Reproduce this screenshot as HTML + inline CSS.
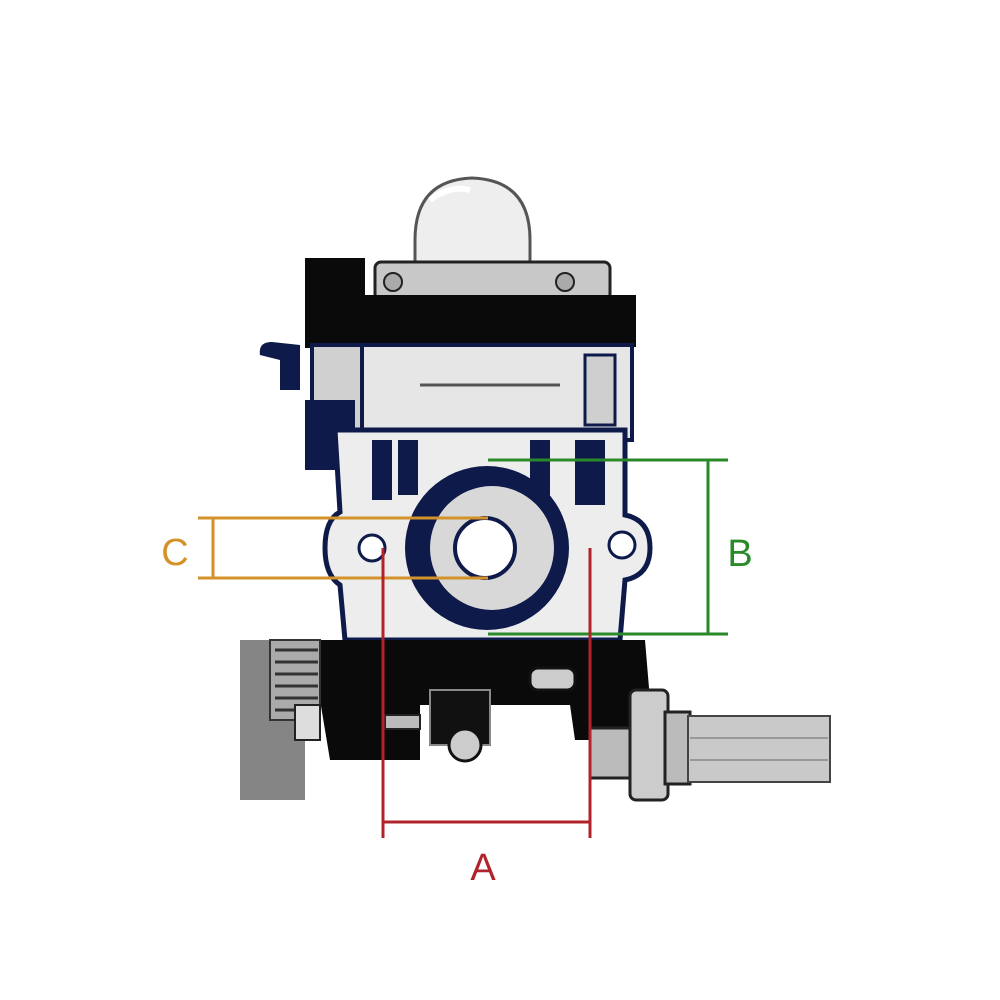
<!DOCTYPE html>
<html><head><meta charset="utf-8"><style>
html,body{margin:0;padding:0;background:#fff;}
svg{display:block;}
text{font-family:"Liberation Sans",sans-serif;}
</style></head><body>
<svg width="1000" height="1000" viewBox="0 0 1000 1000" xmlns="http://www.w3.org/2000/svg">
<rect width="1000" height="1000" fill="#fff"/>
<!-- primer bulb -->
<path d="M415,268 L415,240 Q415,180 472,178 Q530,180 530,240 L530,268 Z" fill="#eeeeee" stroke="#555" stroke-width="3"/>
<path d="M430,200 Q450,185 470,190" stroke="#fff" stroke-width="6" fill="none"/>
<!-- bulb base plate -->
<rect x="375" y="262" width="235" height="38" rx="6" fill="#c8c8c8" stroke="#222" stroke-width="3"/>
<circle cx="393" cy="282" r="9" fill="#aaa" stroke="#222" stroke-width="2"/>
<circle cx="565" cy="282" r="9" fill="#aaa" stroke="#222" stroke-width="2"/>
<!-- black top body -->
<rect x="308" y="295" width="328" height="52" fill="#0a0a0a"/>
<rect x="305" y="258" width="60" height="90" fill="#0a0a0a"/>
<!-- choke lever -->
<path d="M260,355 Q258,342 272,342 L300,345 L300,390 L280,390 L280,360 Z" fill="#0d1a4a"/>
<!-- body middle -->
<rect x="312" y="345" width="320" height="95" fill="#e6e6e6" stroke="#0d1a4a" stroke-width="4"/>
<rect x="312" y="345" width="50" height="95" fill="#d0d0d0" stroke="#0d1a4a" stroke-width="4"/>
<rect x="305" y="400" width="50" height="70" fill="#0d1a4a"/>
<line x1="420" y1="385" x2="560" y2="385" stroke="#555" stroke-width="3"/>
<rect x="585" y="355" width="30" height="70" fill="#cfcfcf" stroke="#0d1a4a" stroke-width="3"/>
<!-- flange -->
<path d="M335,430 L625,430 L625,515 Q650,520 650,548 Q650,575 625,580 L620,640 L345,640 L340,585 Q325,575 325,548 Q325,520 340,512 Z" fill="#ededed" stroke="#0d1a4a" stroke-width="5"/>
<rect x="372" y="440" width="20" height="60" fill="#0d1a4a"/>
<rect x="398" y="440" width="20" height="55" fill="#0d1a4a"/>
<rect x="530" y="440" width="20" height="55" fill="#0d1a4a"/>
<rect x="575" y="440" width="30" height="65" fill="#0d1a4a"/>
<circle cx="372" cy="548" r="13" fill="#fff" stroke="#0d1a4a" stroke-width="3"/>
<circle cx="622" cy="545" r="13" fill="#fff" stroke="#0d1a4a" stroke-width="3"/>
<!-- ring -->
<circle cx="487" cy="548" r="82" fill="#0d1a4a"/>
<circle cx="492" cy="548" r="62" fill="#d8d8d8"/>
<circle cx="485" cy="548" r="30" fill="#fff" stroke="#0d1a4a" stroke-width="4"/>
<!-- bottom black mechanism -->
<path d="M320,640 L645,640 L650,700 L630,740 L575,740 L570,705 L420,705 L420,760 L330,760 L320,700 Z" fill="#0a0a0a"/>
<rect x="430" y="690" width="60" height="55" fill="#111" stroke="#888" stroke-width="2"/>
<circle cx="465" cy="745" r="16" fill="#ccc" stroke="#111" stroke-width="3"/>
<rect x="530" y="668" width="45" height="22" rx="8" fill="#ccc" stroke="#111" stroke-width="3"/>
<!-- gray tab + spring -->
<rect x="240" y="640" width="65" height="160" fill="#858585"/>
<rect x="270" y="640" width="50" height="80" fill="#aaa" stroke="#333" stroke-width="2"/>
<g stroke="#333" stroke-width="3">
<line x1="275" y1="650" x2="318" y2="650"/><line x1="275" y1="662" x2="318" y2="662"/>
<line x1="275" y1="674" x2="318" y2="674"/><line x1="275" y1="686" x2="318" y2="686"/>
<line x1="275" y1="698" x2="318" y2="698"/><line x1="275" y1="710" x2="318" y2="710"/>
</g>
<rect x="295" y="705" width="25" height="35" fill="#ddd" stroke="#222" stroke-width="2"/>
<rect x="385" y="715" width="35" height="14" fill="#bbb" stroke="#222" stroke-width="2"/>
<!-- right bolt -->
<rect x="590" y="728" width="50" height="50" fill="#bbb" stroke="#222" stroke-width="3"/>
<rect x="630" y="690" width="38" height="110" rx="6" fill="#ccc" stroke="#222" stroke-width="3"/>
<rect x="665" y="712" width="25" height="72" fill="#bbb" stroke="#222" stroke-width="3"/>
<rect x="688" y="716" width="142" height="66" fill="#c9c9c9" stroke="#444" stroke-width="2"/>
<line x1="690" y1="738" x2="828" y2="738" stroke="#999" stroke-width="2"/>
<line x1="690" y1="760" x2="828" y2="760" stroke="#999" stroke-width="2"/>
<!-- dimension C -->
<g stroke="#d4922a" stroke-width="3">
<line x1="198" y1="518" x2="488" y2="518"/>
<line x1="198" y1="578" x2="488" y2="578"/>
<line x1="213" y1="518" x2="213" y2="578"/>
</g>
<text x="175" y="565" font-size="38" fill="#d4922a" text-anchor="middle">C</text>
<!-- dimension B -->
<g stroke="#2a8a2a" stroke-width="3">
<line x1="488" y1="460" x2="728" y2="460"/>
<line x1="488" y1="634" x2="728" y2="634"/>
<line x1="708" y1="460" x2="708" y2="634"/>
</g>
<text x="740" y="566" font-size="38" fill="#2a8a2a" text-anchor="middle">B</text>
<!-- dimension A -->
<g stroke="#b0232a" stroke-width="3">
<line x1="383" y1="548" x2="383" y2="838"/>
<line x1="590" y1="548" x2="590" y2="838"/>
<line x1="383" y1="822" x2="590" y2="822"/>
</g>
<text x="483" y="880" font-size="38" fill="#b0232a" text-anchor="middle">A</text>
</svg>
</body></html>
